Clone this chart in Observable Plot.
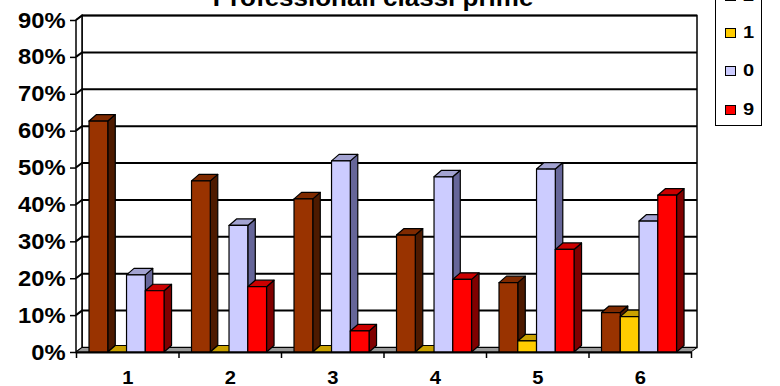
<!DOCTYPE html>
<html>
<head>
<meta charset="utf-8">
<script src="https://cdn.jsdelivr.net/npm/d3@7"></script>
<script src="https://cdn.jsdelivr.net/npm/@observablehq/plot@0.6"></script>
<style>
  body { margin: 0; background: #fff; }
  #chart { position: relative; width: 780px; height: 386px; overflow: hidden;
           font-family: "Liberation Sans", Arial, sans-serif; font-weight: bold; color: #000; }
  #chart svg { position: absolute; left: 0; top: 0; }
  #title { position: absolute; left: 0; width: 746px; top: -13px; line-height: 23px;
           text-align: center; font-size: 23px; white-space: nowrap;
           transform: scaleX(1.13); transform-origin: 373px 0; }
  #legend { position: absolute; left: 715px; top: -27px; width: 47px; height: 153px;
            box-sizing: border-box; border: 1.5px solid #000; background: #fff; }
  .item { position: absolute; left: 0; height: 20px; margin-top: -10px;
          display: flex; align-items: center; font-size: 16px; }
  .item span { display: inline-block; transform: scaleX(1.25); transform-origin: 0 50%; }
  .sw { width: 11px; height: 10px; box-sizing: border-box; border: 1px solid #000;
        margin-left: 9px; margin-right: 7px; }
</style>
</head>
<body>
<div id="chart">
  <div id="title">Professionali classi prime</div>
  <div id="legend"></div>
</div>
<script>
// Categories along the x axis and the four answer series (percent of pupils)
const categories = ["1", "2", "3", "4", "5", "6"];
const seriesNames = ["2", "1", "0", "9"];
const values2 = [62.6, 46.4, 41.5, 31.7, 18.8, 10.7];
const values1 = [0, 0, 0, 0, 3.0, 9.6];
const values0 = [20.9, 34.3, 51.8, 47.5, 49.6, 35.5];
const values9 = [16.6, 17.7, 5.7, 19.7, 27.8, 42.5];
const yTicks = [0, 10, 20, 30, 40, 50, 60, 70, 80, 90];

// Face colours for each series: front, side, top
const fronts = ["#993300", "#ffcc00", "#ccccff", "#ff0000"];
const sides  = ["#4d1a00", "#806600", "#666699", "#800000"];
const tops   = ["#7f2a00", "#c9a100", "#a3a3d1", "#cc0000"];

const seriesValues = [values2, values1, values0, values9];
const rows = categories.flatMap((c, i) =>
  seriesNames.map((s, j) => ({cat: i, j, series: s, value: seriesValues[j][i]}))
);

// Layout of the pseudo-3D box
const WALL = {dx: 6, dy: -4.5};     // depth of side wall / floor
const BAR = {dx: 7.5, dy: -6.5};    // depth of each column
const GROUP_OFFSET = 0.127;         // gap before first column, in category units
const BAR_W = 0.183;                // column width, in category units
const N = categories.length;

function walls(index, scales) {
  const g = d3.create("svg:g").attr("fill", "none").attr("stroke", "#000");
  const xa = scales.x(0), xb = scales.x(N);
  const y0 = scales.y(0), yt = scales.y(yTicks[yTicks.length - 1]);
  const {dx, dy} = WALL;
  // back wall
  g.append("rect").attr("x", xa + dx).attr("y", yt + dy)
    .attr("width", xb - xa).attr("height", y0 - yt).attr("fill", "#fff").attr("stroke-width", 1.5);
  // left side wall
  g.append("path").attr("d", `M${xa},${y0}L${xa},${yt}L${xa + dx},${yt + dy}L${xa + dx},${y0 + dy}Z`)
    .attr("fill", "#fff").attr("stroke-width", 1.5);
  // floor
  g.append("path").attr("d", `M${xa},${y0}L${xb},${y0}L${xb + dx},${y0 + dy}L${xa + dx},${y0 + dy}Z`)
    .attr("fill", "#9a9a9a").attr("stroke-width", 1);
  // gridlines across side wall and back wall
  for (const v of yTicks.slice(1)) {
    const y = scales.y(v);
    g.append("path").attr("d", `M${xa},${y}L${xa + dx},${y + dy}L${xb + dx},${y + dy}`)
      .attr("stroke-width", 2);
  }
  return g.node();
}

function columns(index, scales, values) {
  const g = d3.create("svg:g").attr("stroke", "#000").attr("stroke-width", 1.2)
    .attr("stroke-linejoin", "round");
  const {dx, dy} = BAR;
  for (const i of index) {
    const xa = values.x1[i], xb = values.x2[i];
    const yb = values.y1[i], yt = values.y2[i];
    const k = rows[i].j;
    g.append("path")
      .attr("d", `M${xb},${yb}L${xb + dx},${yb + dy}L${xb + dx},${yt + dy}L${xb},${yt}Z`)
      .attr("fill", sides[k]);
    g.append("path")
      .attr("d", `M${xa},${yt}L${xa + dx},${yt + dy}L${xb + dx},${yt + dy}L${xb},${yt}Z`)
      .attr("fill", tops[k]);
    g.append("rect").attr("x", xa).attr("y", yt).attr("width", xb - xa)
      .attr("height", Math.max(0, yb - yt)).attr("fill", values.fill[i]);
  }
  return g.node();
}

const chart = Plot.plot({
  width: 780,
  height: 386,
  marginLeft: 76,
  marginRight: 89,
  marginTop: 20,
  marginBottom: 34,
  style: {fontFamily: "Liberation Sans, Arial, sans-serif", fontWeight: "bold", background: "transparent"},
  x: {domain: [0, N], axis: null},
  y: {domain: [0, 90], axis: null},
  color: {domain: seriesNames, range: fronts},
  marks: [
    Plot.ruleY(yTicks, {render: walls}),
    Plot.rect(rows, {
      x1: d => d.cat + GROUP_OFFSET + d.j * BAR_W,
      x2: d => d.cat + GROUP_OFFSET + (d.j + 1) * BAR_W,
      y1: 0,
      y2: "value",
      fill: "series",
      render: columns
    }),
    Plot.axisY(yTicks, {
      label: null, tickSize: 6, tickPadding: 5, strokeWidth: 1.5,
      tickFormat: d => d + "%", fontSize: 22, fontWeight: "bold"
    }),
    Plot.ruleY([0], {x1: 0, x2: N, strokeWidth: 2}),
    Plot.axisX(d3.range(0, N + 1), {label: null, tickSize: 6, strokeWidth: 1.5, tickFormat: () => ""}),
    Plot.axisX(categories.map((c, i) => i + 0.5), {
      label: null, tickSize: 0, tickPadding: 19,
      tickFormat: d => categories[Math.floor(d)], fontSize: 18, fontWeight: "bold"
    })
  ]
});

// Heavier, slightly wider tick labels
function widen(selector, size, sx) {
  d3.select(chart).selectAll(selector)
    .attr("font-size", size).style("font-size", size + "px").attr("font-weight", "bold")
    .selectAll("text")
    .attr("transform", function() {
      const t = this.getAttribute("transform") || "";
      return `${t} scale(${sx},1)`;
    });
}
widen('g[aria-label="y-axis tick label"]', 22, 1.08);
widen('g[aria-label="x-axis tick label"]', 18, 1.12);

document.getElementById("chart").appendChild(chart);

// Legend
const legend = d3.select("#legend");
const itemCenters = [22, 58.5, 97, 135.5];
seriesNames.forEach((s, j) => {
  const item = legend.append("div").attr("class", "item").style("top", itemCenters[j] + "px");
  item.append("div").attr("class", "sw").style("background", fronts[j]);
  item.append("span").text(s);
});
</script>
</body>
</html>
